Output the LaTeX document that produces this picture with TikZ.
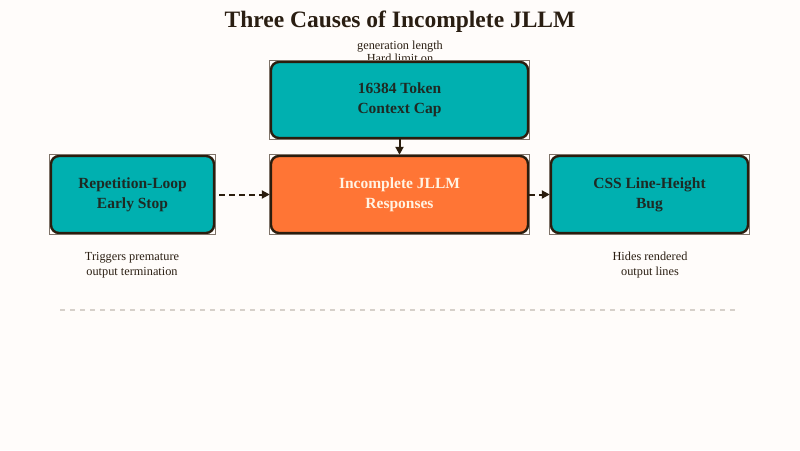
\documentclass[tikz,border=0pt]{standalone}
\usepackage{fontspec}
\setmainfont{Liberation Serif}
\usetikzlibrary{arrows.meta}
\definecolor{bg}{HTML}{FFFCFA}
\definecolor{tealbox}{HTML}{00B0B0}
\definecolor{orng}{HTML}{FF7535}
\definecolor{edgec}{HTML}{2B1D0E}
\definecolor{framec}{HTML}{7E7268}
\definecolor{ink}{HTML}{1E2A24}
\definecolor{cream}{HTML}{FFF3E3}
\definecolor{txt}{HTML}{2A1E12}
\definecolor{sep}{HTML}{D6D0CA}
\begin{document}
\begin{tikzpicture}[x=1pt,y=-1pt,
  box/.style={draw=edgec,line width=2.4pt,rounded corners=8pt,inner sep=0pt,align=center,
    font=\fontsize{15.5}{20}\selectfont\bfseries},
  fr/.style={draw=framec,line width=0.7pt},
  lbl/.style={inner sep=0pt,align=center,text=txt,font=\fontsize{12.3}{15}\selectfont},
  conn/.style={draw=edgec,line width=2pt,-{Triangle[length=8pt,width=8pt]}},
  dconn/.style={conn,dash pattern=on 6pt off 4pt}]
\fill[bg] (0,0) rectangle (800,450);
\useasboundingbox (0,0) rectangle (800,450);
% title
\node[inner sep=0pt,text=txt,font=\fontsize{23.5}{26}\selectfont\bfseries] (title) at (400,21.5) {Three Causes of Incomplete JLLM};
% top labels (drawn before box so box covers them)
\node[lbl] (lim2) at (400,47) {generation length};
\node[lbl] (lim1) at (400,58) {Hard limit on};
% boxes
\node[box,fill=tealbox,text=ink,minimum width=257pt,minimum height=76pt] (cap) at (399.5,100) {16384 Token\\Context Cap};
\node[box,fill=orng,text=cream,minimum width=257pt,minimum height=77pt] (resp) at (399.5,194.5) {Incomplete JLLM\\Responses};
\node[box,fill=tealbox,text=ink,minimum width=163pt,minimum height=77pt] (rep) at (132.5,194.5) {Repetition-Loop\\Early Stop};
\node[box,fill=tealbox,text=ink,minimum width=197pt,minimum height=77pt] (css) at (649.5,194.5) {CSS Line-Height\\Bug};
% frames
\foreach \n in {cap,resp,rep,css}{
  \draw[fr] ([shift={(-0.5pt,0.5pt)}]\n.north west) rectangle ([shift={(0.5pt,-0.5pt)}]\n.south east);
}
% notes
\node[lbl] (repnote) at (132,265) {Triggers premature\\output termination};
\node[lbl] (cssnote) at (650,265) {Hides rendered\\output lines};
% connectors
\draw[conn] (cap) -- (resp);
\draw[dconn,shorten <=4pt] (rep) -- (resp);
\draw[dconn] (resp) -- (css);
% separator
\coordinate (d1) at (60,310);
\coordinate (d2) at (735,310);
\draw[sep,line width=1.2pt,dash pattern=on 5pt off 5pt] (d1) -- (d2);
\end{tikzpicture}
\end{document}
